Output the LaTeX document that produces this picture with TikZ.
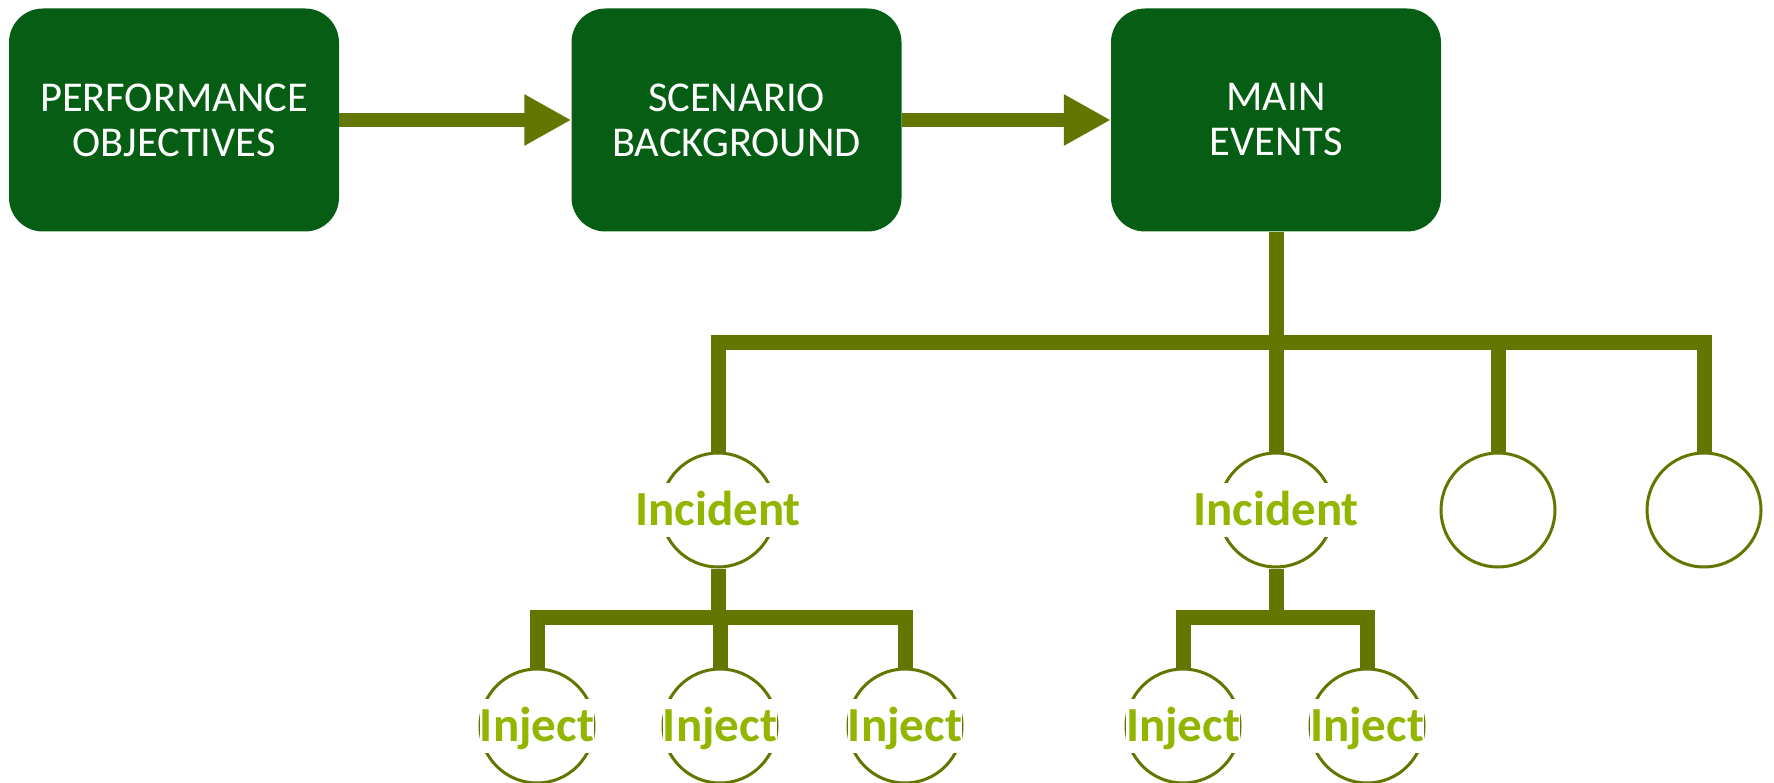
\documentclass[tikz,border=0pt]{standalone}
\usepackage{fontspec}
\setmainfont{Carlito}
\usetikzlibrary{arrows.meta}
\definecolor{stagegreen}{HTML}{055E14}
\definecolor{linkolive}{HTML}{637600}
\definecolor{taglime}{HTML}{92B600}
\begin{document}
\begin{tikzpicture}[x=1pt,y=-1pt,
  stagebox/.style={fill=stagegreen, rounded corners=34pt, minimum width=330pt,
    minimum height=223pt, text=white, align=center,
    font=\fontsize{42.5}{45}\selectfont, inner sep=0pt},
  flowarrow/.style={draw=linkolive, line width=14pt,
    -{Triangle[length=47pt,width=48pt]}},
  branchline/.style={draw=linkolive, line width=15pt, line join=miter, line cap=butt},
  ringnode/.style={circle, draw=linkolive, fill=white, line width=3pt,
    minimum size=114pt, inner sep=0pt},
  ringtext/.style={fill=white, text=taglime, font=\fontsize{49}{49}\selectfont\bfseries,
    inner xsep=0pt, text height=31pt, text depth=0pt, inner ysep=11.5pt}
]
\useasboundingbox (0,0) rectangle (1774,783);

% top row of stages
\node[stagebox] (perf) at (174,120) {PERFORMANCE\\OBJECTIVES};
\node[stagebox] (scen) at (736.5,120) {SCENARIO\\BACKGROUND};
\node[stagebox] (main) at (1276,120) {MAIN\\EVENTS};

\draw[flowarrow] (perf.east) -- (scen.west);
\draw[flowarrow] (scen.east) -- (main.west);

% incidents and events
\node[ringnode] (inc1) at (718,510) {};
\node[ringnode] (inc2) at (1276,510) {};
\node[ringnode] (ev3) at (1498,510) {};
\node[ringnode] (ev4) at (1704,510) {};

% injects
\node[ringnode] (j1) at (537,726) {};
\node[ringnode] (j2) at (720,726) {};
\node[ringnode] (j3) at (905,726) {};
\node[ringnode] (j4) at (1183,726) {};
\node[ringnode] (j5) at (1367,726) {};

\coordinate (hub) at (1276,343);
\coordinate (sub1) at (718,617);
\coordinate (sub2) at (1276,617);

% main branch
\draw[branchline] (inc1.north) -- (inc1.north |- hub) -- (ev4.north |- hub) -- (ev4.north);
\draw[branchline] (main.south) -- (inc2.north);
\draw[branchline] (ev3.north |- hub) -- (ev3.north);

% first incident branch
\draw[branchline] (j1.north) -- (j1.north |- sub1) -- (j3.north |- sub1) -- (j3.north);
\draw[branchline] (inc1.south) -- (sub1);
\draw[branchline] (j2.north |- sub1) -- (j2.north);

% second incident branch
\draw[branchline] (j4.north) -- (j4.north |- sub2) -- (j5.north |- sub2) -- (j5.north);
\draw[branchline] (inc2.south) -- (sub2);

% labels over the rings
\node[ringtext] (inc1t) at (inc1) {Incident};
\node[ringtext] (inc2t) at (inc2) {Incident};
\node[ringtext] (j1t) at (j1) {Inject};
\node[ringtext] (j2t) at (j2) {Inject};
\node[ringtext] (j3t) at (j3) {Inject};
\node[ringtext] (j4t) at (j4) {Inject};
\node[ringtext] (j5t) at (j5) {Inject};
\end{tikzpicture}
\end{document}
